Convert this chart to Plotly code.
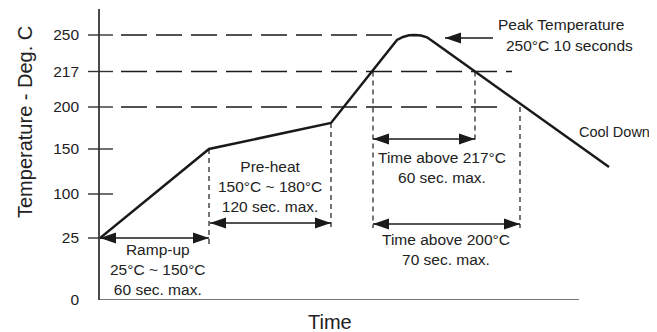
import numpy as np
import plotly.graph_objects as go

# ---------------- data ----------------
TICK_TEMPS = [0, 25, 100, 150, 200, 217, 250]            # y tick values (deg C)
TICK_LABELS = ["0", "25", "100", "150", "200", "217", "250"]
# schematic (non-linear) y scale: axis position of each tick temperature
SCALE_POS = [0, 62, 106, 151, 193, 228.5, 265]

# reflow profile (arbitrary time units, deg C)
PROFILE_TIME = [0, 109, 231, 292, 297, 303, 309, 315, 321, 327, 333, 509]
PROFILE_TEMP = [25, 150, 181, 240.5, 245.5, 248.2, 249.7, 250, 249.6, 247.9, 244.1, 130]

# phase boundaries on the time axis
T_RAMP_END = 109
T_PREHEAT_END = 231
T_217_UP = 273
T_217_DOWN = 375
T_200_DOWN = 420

LIMIT_LEVELS = [250, 217, 200]
PREHEAT_END_TEMP = 181

# ---------------- helpers ----------------
def ty(temp):
    return np.interp(temp, TICK_TEMPS, SCALE_POS)

INK = "#1a1a1a"
TXT = "#222222"
FONT = "Liberation Sans, Arial, sans-serif"

shapes = []
annotations = []

def hdash(x0, x1, y):
    shapes.append(dict(type="line", xref="x", yref="y", x0=x0, x1=x1, y0=y, y1=y,
                       line=dict(color=INK, width=1.3, dash="26px,9px")))

def vdash(x, y0, y1):
    shapes.append(dict(type="line", xref="x", yref="y", x0=x, x1=x, y0=y0, y1=y1,
                       line=dict(color=INK, width=1.2, dash="5px,4px")))

def arrow(x0, x1, y, both=True, head=16, hw=5.5):
    shapes.append(dict(type="line", xref="x", yref="y", x0=x0, x1=x1, y0=y, y1=y,
                       line=dict(color=INK, width=1.6)))
    d = 1 if x1 > x0 else -1

    def tri(tip, dirn):
        base = tip - dirn * head
        return f"M{tip},{y} L{base},{y + hw} L{base},{y - hw} Z"

    shapes.append(dict(type="path", xref="x", yref="y", path=tri(x1, d),
                       fillcolor=INK, line=dict(width=0)))
    if both:
        shapes.append(dict(type="path", xref="x", yref="y", path=tri(x0, -d),
                           fillcolor=INK, line=dict(width=0)))

def label(x, y, text, xanchor="center", size=15.5):
    annotations.append(dict(x=x, y=y, xref="x", yref="y", text=text, showarrow=False,
                            xanchor=xanchor, yanchor="middle", align="center",
                            font=dict(family=FONT, size=size, color=TXT)))

# ---------------- figure ----------------
fig = go.Figure()
fig.add_trace(go.Scatter(x=PROFILE_TIME, y=ty(PROFILE_TEMP), mode="lines",
                         line=dict(color=INK, width=2.5), hoverinfo="skip",
                         showlegend=False))

# x axis line (shorter than the plot area)
shapes.append(dict(type="line", xref="x", yref="y", x0=0, x1=479, y0=0, y1=0,
                   line=dict(color="#4a4a4a", width=1.6)))

# tick marks crossing the y axis
PW = 557.0
PH = 291.0
for t in TICK_TEMPS[1:]:
    shapes.append(dict(type="line", xref="paper", yref="y", x0=-12 / PW, x1=13 / PW,
                       y0=ty(t), y1=ty(t), line=dict(color="#333333", width=1.4)))

# horizontal dashed limit lines
for lvl, x_end in zip(LIMIT_LEVELS, [300, 412, 406]):
    hdash(21, x_end, ty(lvl))

# vertical dashed phase markers
vdash(T_RAMP_END, ty(150), 55)
vdash(T_PREHEAT_END, ty(PREHEAT_END_TEMP), 73)
vdash(T_217_UP, ty(217), 72)
vdash(T_217_DOWN, ty(217), 160)
vdash(T_200_DOWN, ty(200), 72)

# arrows
arrow(0, T_RAMP_END, ty(25))
arrow(T_RAMP_END + 1, T_PREHEAT_END, 77)
arrow(T_217_UP, T_217_DOWN, 161)
arrow(T_217_UP, T_200_DOWN, 76)
arrow(393, 345, 262, both=False)

# texts
label(58, 31, "Ramp-up<br>25°C ~ 150°C<br>60 sec. max.")
label(169.5, 113.5, "Pre-heat<br>150°C ~ 180°C<br>120 sec. max.")
label(342, 132.5, "Time above 217°C<br>60 sec. max.")
label(345.5, 50.5, "Time above 200°C<br>70 sec. max.")
label(461, 276, "Peak Temperature")
label(469, 255, "250°C 10 seconds")
label(477, 168, "Cool Down", xanchor="left", size=14.5)

# axis titles (positioned like the reference, off-centre)
annotations.append(dict(x=(330 - 100) / PW, y=(300 - 322) / PH, xref="paper", yref="paper",
                        text="Time", showarrow=False, xanchor="center", yanchor="middle",
                        font=dict(family=FONT, size=20, color=TXT)))
annotations.append(dict(x=(25 - 100) / PW, y=(300 - 122) / PH, xref="paper", yref="paper",
                        text="Temperature - Deg. C", showarrow=False, textangle=-90,
                        xanchor="center", yanchor="middle",
                        font=dict(family=FONT, size=20, color=TXT)))

# the page places the figure 8px in from the top-left corner, so the figure
# is 8px smaller and the margins compensate
fig.update_layout(
    width=649, height=324, autosize=False,
    margin=dict(l=92, r=0, t=1, b=32, pad=0),
    paper_bgcolor="white", plot_bgcolor="white",
    shapes=shapes, annotations=annotations,
    xaxis=dict(range=[0, 557], showgrid=False, zeroline=False, showline=False,
               showticklabels=False, ticks="", fixedrange=True),
    yaxis=dict(range=[0, 291], showgrid=False, zeroline=False, showline=True,
               linecolor="#4a4a4a", linewidth=1.6, ticks="",
               tickvals=list(SCALE_POS), ticktext=TICK_LABELS,
               tickfont=dict(family=FONT, size=15.5, color=TXT),
               ticklabelstandoff=16, fixedrange=True),
)

fig.write_html("out.html")
